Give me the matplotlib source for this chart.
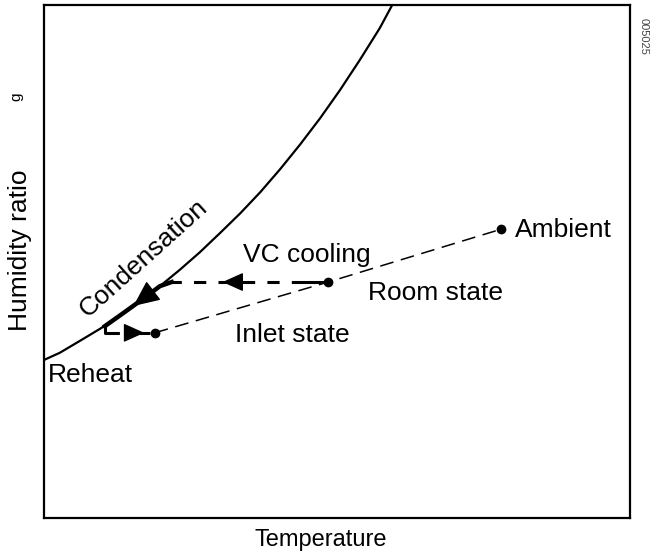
import matplotlib.pyplot as plt

plt.rcParams['font.family'] = ['Liberation Sans', 'DejaVu Sans']

# saturation (condensation) curve
curve_t = [0, 2.7, 6.1, 9.6, 13.0, 16.4, 19.8, 23.2, 26.6, 30.0,
           33.5, 36.9, 40.3, 43.7, 47.1, 50.5, 53.9, 57.3, 59.7]
curve_w = [30.8, 32.2, 34.5, 36.9, 39.5, 42.3, 45.2, 48.4, 51.8, 55.5,
           59.4, 63.5, 68.0, 72.8, 77.9, 83.4, 89.3, 95.5, 100.6]

# states
state_names = ['Inlet state', 'Room state', 'Ambient']
state_t = [18.9, 48.5, 78.0]
state_w = [36.1, 46.0, 56.3]

# process paths
vc_t = [48.5, 21.8]
vc_w = [46.0, 46.0]
cond_t = [21.8, 19.8, 16.4, 13.0, 10.4]
cond_w = [46.0, 45.2, 42.3, 39.5, 37.4]
reheat_t = [10.4, 10.4, 18.9]
reheat_w = [37.4, 36.1, 36.1]

fig = plt.figure(figsize=(6.55, 5.57), dpi=100)
ax = fig.add_axes([0.067, 0.070, 0.895, 0.921])
ax.set_xlim(0, 100)
ax.set_ylim(0, 100)
ax.set_xticks([])
ax.set_yticks([])
for s in ax.spines.values():
    s.set_linewidth(1.6)

ax.plot(curve_t, curve_w, color='black', lw=1.6)

# mixing line inlet -> room -> ambient
ax.plot(state_t, state_w, color='black', lw=1.1, dashes=(9, 5))
ax.plot(state_t, state_w, 'o', color='black', ms=6)

# VC cooling (long dash - short dash, heavier)
ax.plot(vc_t, vc_w, color='black', lw=2.2, dashes=(12, 4, 4, 4))
ax.annotate('', xy=(30.0, 46.0), xytext=(33.0, 46.0),
            arrowprops=dict(arrowstyle='-|>,head_length=1.0,head_width=0.45',
                            color='black', lw=1, mutation_scale=13))

# condensation along the curve
ax.plot(cond_t, cond_w, color='black', lw=3.2)
ax.annotate('', xy=(14.9, 41.0), xytext=(18.1, 43.8),
            arrowprops=dict(arrowstyle='-|>,head_length=1.1,head_width=0.5',
                            color='black', lw=1, mutation_scale=15))

# reheat
ax.plot(reheat_t, reheat_w, color='black', lw=2.2, dashes=(7, 3))
ax.annotate('', xy=(17.6, 36.1), xytext=(14.5, 36.1),
            arrowprops=dict(arrowstyle='-|>,head_length=1.0,head_width=0.45',
                            color='black', lw=1, mutation_scale=13))

fs = 19
ax.text(80.4, 56.2, 'Ambient', fontsize=fs, ha='left', va='center')
ax.text(55.3, 43.9, 'Room state', fontsize=fs, ha='left', va='center')
ax.text(34.0, 51.3, 'VC cooling', fontsize=fs, ha='left', va='center')
ax.text(32.6, 35.6, 'Inlet state', fontsize=fs, ha='left', va='center')
ax.text(0.6, 27.8, 'Reheat', fontsize=fs, ha='left', va='center')
ax.text(17.0, 50.6, 'Condensation', fontsize=fs, ha='center', va='center',
        rotation=42, rotation_mode='anchor')

fig.text(0.030, 0.551, 'Humidity ratio', fontsize=fs, rotation=90,
         ha='center', va='center')
fig.text(0.489, 0.030, 'Temperature', fontsize=17, ha='center', va='center')
fig.text(0.982, 0.935, '005025', fontsize=8, rotation=-90, color='#444444',
         ha='center', va='center')
fig.text(0.025, 0.826, 'g', fontsize=11, rotation=90, ha='center', va='center')

fig.savefig('out.png', dpi=100)
